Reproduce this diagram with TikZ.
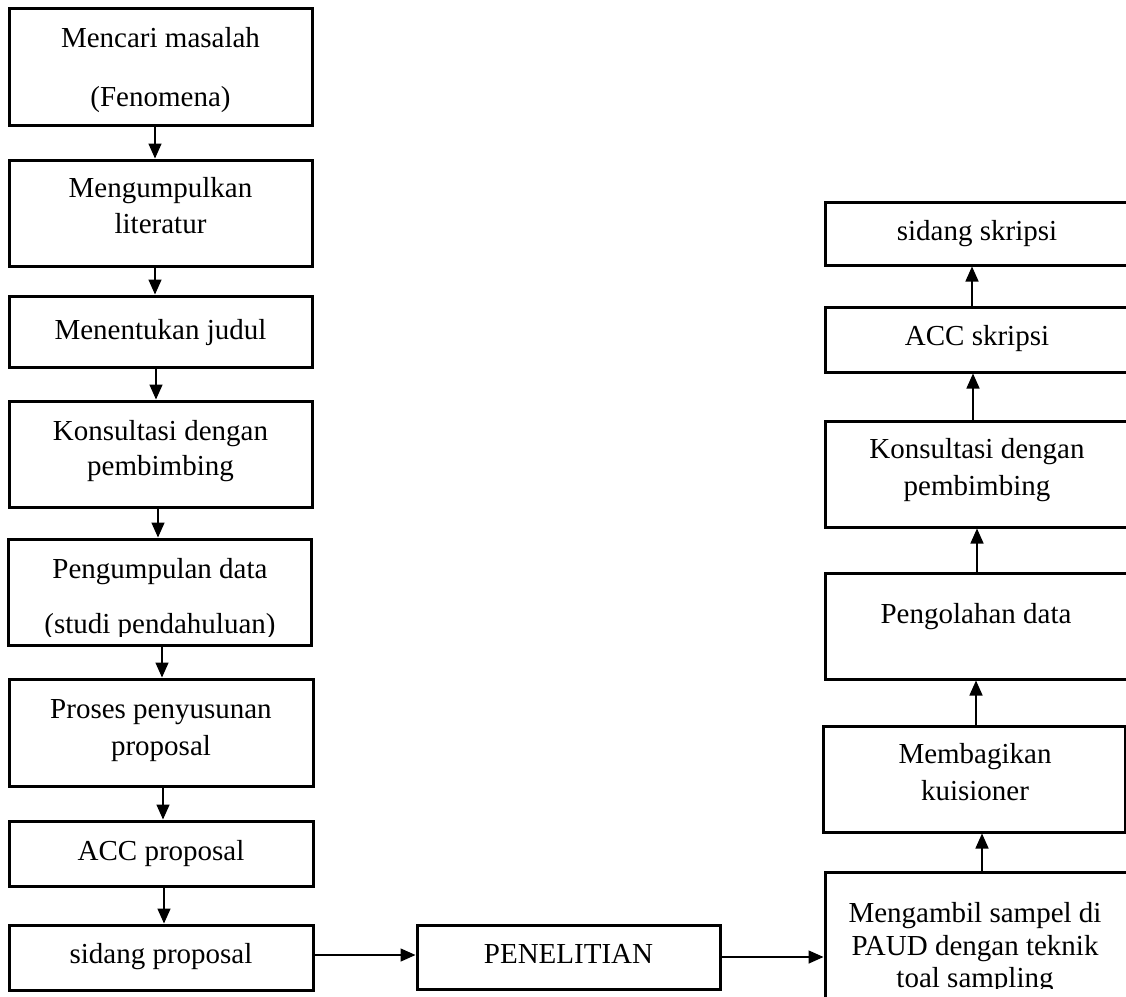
\documentclass[tikz,border=0pt]{standalone}
\usepackage{fontspec}
\setmainfont{Liberation Serif}
\usetikzlibrary{arrows.meta,fit}
\begin{document}
\begin{tikzpicture}[x=1pt,y=-1pt,
  box/.style={draw,line width=3pt,inner sep=0pt},
  arr/.style={line width=1.5pt,-{Triangle[width=13pt,length=15pt]}},
  lbl/.style={anchor=base,inner sep=0pt,font=\fontsize{29}{35}\selectfont}]
\useasboundingbox (0,0) rectangle (1126,996);
\clip (0,0) rectangle (1126,996);
% left column boxes
\node[box,fit={(9,8)(312,125)}] (b1) {};
\node[box,fit={(9,160)(312,266)}] (b2) {};
\node[box,fit={(9,296)(312,367)}] (b3) {};
\node[box,fit={(9,401)(312,507)}] (b4) {};
\node[box,fit={(8,539)(311,645)}] (b5) {};
\node[box,fit={(9,679)(313,786)}] (b6) {};
\node[box,fit={(9,821)(313,886)}] (b7) {};
\node[box,fit={(9,925)(313,990)}] (b8) {};
% middle
\node[box,fit={(417,925)(720,989)}] (pen) {};
% right column boxes
\node[box,fit={(825,202)(1130,265)}] (r1) {};
\node[box,fit={(825,307)(1130,372)}] (r2) {};
\node[box,fit={(825,421)(1130,527)}] (r3) {};
\node[box,fit={(825,573)(1130,679)}] (r4) {};
\node[box,fit={(823,726)(1125,832)}] (r5) {};
\node[box,fit={(825,872)(1130,1010)}] (r6) {};
% texts
\node[lbl] (t1a) at (160.5,47) {Mencari masalah};
\node[lbl] (t1b) at (160.5,106) {(Fenomena)};
\node[lbl] (t2a) at (160.5,197) {Mengumpulkan};
\node[lbl] (t2b) at (160.5,233) {literatur};
\node[lbl] (t3) at (160.5,339) {Menentukan judul};
\node[lbl] (t4a) at (160.5,440) {Konsultasi dengan};
\node[lbl] (t4b) at (160.5,475) {pembimbing};
\node[lbl] (t5a) at (160,578) {Pengumpulan data};
\begin{scope}
\clip (0,0) rectangle (1126,636);
\node[lbl] (t5b) at (160,633) {(studi pendahuluan)};
\end{scope}
\node[lbl] (t6a) at (161,718) {Proses penyusunan};
\node[lbl] (t6b) at (161,755) {proposal};
\node[lbl] (t7) at (161,860) {ACC proposal};
\node[lbl] (t8) at (161,963) {sidang proposal};
\node[lbl] (tp) at (568.5,963) {PENELITIAN};
\node[lbl] (u1) at (977,240) {sidang skripsi};
\node[lbl] (u2) at (977,345) {ACC skripsi};
\node[lbl] (u3a) at (977,458) {Konsultasi dengan};
\node[lbl] (u3b) at (977,495) {pembimbing};
\node[lbl] (u4) at (976,623) {Pengolahan data};
\node[lbl] (u5a) at (975,763) {Membagikan};
\node[lbl] (u5b) at (975,800) {kuisioner};
\node[lbl] (u6a) at (975,922) {Mengambil sampel di};
\node[lbl] (u6b) at (975,955) {PAUD dengan teknik};
\begin{scope}
\clip (0,0) rectangle (1126,988);
\node[lbl] (u6c) at (975,987) {toal sampling};
\end{scope}
% arrow x positions
\coordinate (a1) at (155,0);
\coordinate (a2) at (155,0);
\coordinate (a3) at (156,0);
\coordinate (a4) at (158,0);
\coordinate (a5) at (162,0);
\coordinate (a6) at (163,0);
\coordinate (a7) at (164,0);
\coordinate (c1) at (972,0);
\coordinate (c2) at (973,0);
\coordinate (c3) at (977,0);
\coordinate (c4) at (976,0);
\coordinate (c5) at (982,0);
\coordinate (h1) at (0,955);
\coordinate (h2) at (0,957);
% left arrows
\draw[arr] (b1.south -| a1) -- (b2.north -| a1);
\draw[arr] (b2.south -| a2) -- (b3.north -| a2);
\draw[arr] (b3.south -| a3) -- (b4.north -| a3);
\draw[arr] (b4.south -| a4) -- (b5.north -| a4);
\draw[arr] (b5.south -| a5) -- (b6.north -| a5);
\draw[arr] (b6.south -| a6) -- (b7.north -| a6);
\draw[arr] (b7.south -| a7) -- (b8.north -| a7);
% horizontal
\draw[arr] (b8.east |- h1) -- (pen.west |- h1);
\draw[arr] (pen.east |- h2) -- (r6.west |- h2);
% right arrows (upward)
\draw[arr] (r2.north -| c1) -- (r1.south -| c1);
\draw[arr] (r3.north -| c2) -- (r2.south -| c2);
\draw[arr] (r4.north -| c3) -- (r3.south -| c3);
\draw[arr] (r5.north -| c4) -- (r4.south -| c4);
\draw[arr] (r6.north -| c5) -- (r5.south -| c5);
\end{tikzpicture}
\end{document}
